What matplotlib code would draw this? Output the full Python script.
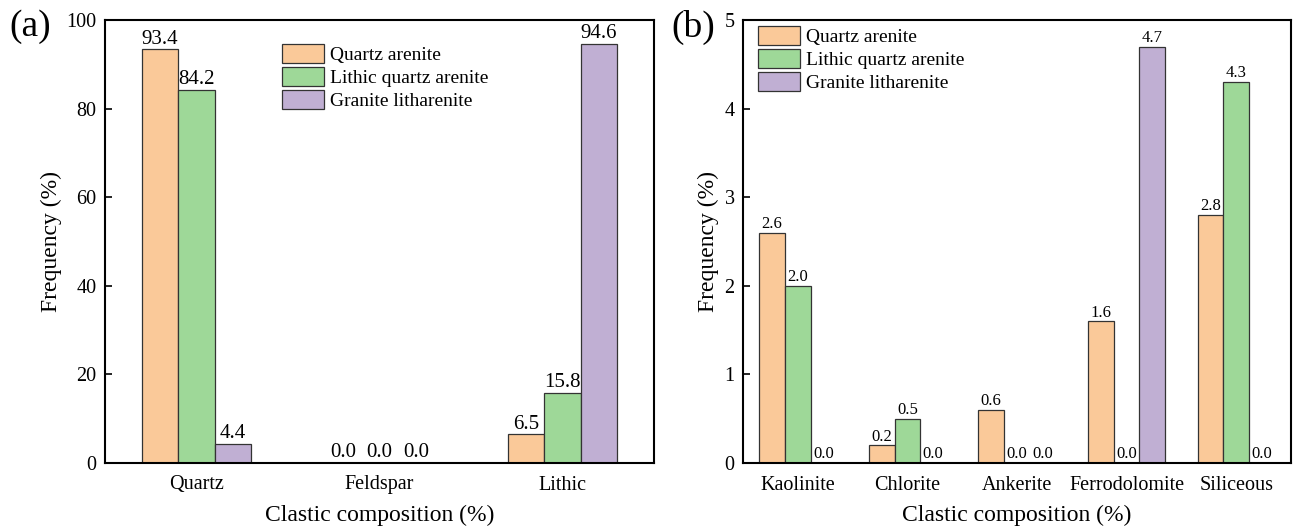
import matplotlib
matplotlib.use("Agg")
import matplotlib.pyplot as plt
import numpy as np

plt.rcParams['font.family'] = ['Liberation Serif', 'DejaVu Serif']
plt.rcParams['mathtext.fontset'] = 'stix'

series_names = ["Quartz arenite", "Lithic quartz arenite", "Granite litharenite"]
colors = ["#FAC999", "#9ED898", "#C0AFD3"]

cats_a = ["Quartz", "Feldspar", "Lithic"]
qa_a = [93.4, 0.0, 6.5]
lqa_a = [84.2, 0.0, 15.8]
gl_a = [4.4, 0.0, 94.6]

cats_b = ["Kaolinite", "Chlorite", "Ankerite", "Ferrodolomite", "Siliceous"]
qa_b = [2.6, 0.2, 0.6, 1.6, 2.8]
lqa_b = [2.0, 0.5, 0.0, 0.0, 4.3]
gl_b = [0.0, 0.0, 0.0, 4.7, 0.0]

W, H = 1295, 529
fig = plt.figure(figsize=(W / 100, H / 100), dpi=100)

def px_axes(l, r, t, b):
    return fig.add_axes([l / W, (H - b) / H, (r - l) / W, (b - t) / H])

ax_a = px_axes(105, 654, 20, 463)
ax_b = px_axes(743, 1291, 20, 463)

def draw(ax, cats, data, width, ylim, yticks, lab_fs, leg_anchor, ylab_x):
    x = np.arange(len(cats))
    for i, (vals, c, name) in enumerate(zip(data, colors, series_names)):
        bars = ax.bar(x + (i - 1) * width, vals, width, color=c, edgecolor="#333333",
                      linewidth=0.9, label=name, zorder=2)
        for rect, v in zip(bars, vals):
            ax.annotate(f"{v:.1f}", (rect.get_x() + rect.get_width() / 2, rect.get_height()),
                        xytext=(0, 0.5), textcoords="offset points", ha="center", va="bottom",
                        fontsize=lab_fs)
    ax.set_xlim(-0.5, len(cats) - 0.5)
    ax.set_ylim(*ylim)
    ax.set_yticks(yticks)
    ax.set_xticks(x)
    ax.set_xticklabels(cats)
    ax.tick_params(axis="y", direction="in", length=5, width=1.2, labelsize=14.5, pad=6)
    ax.tick_params(axis="x", length=0, labelsize=14.5, pad=9)
    for s in ax.spines.values():
        s.set_linewidth(1.5)
    ax.set_ylabel("Frequency (%)", fontsize=17)
    ax.yaxis.set_label_coords(ylab_x, 0.5)
    ax.set_xlabel("Clastic composition (%)", fontsize=17)
    ax.xaxis.set_label_coords(0.5, -0.095)
    ax.legend(loc="upper left", bbox_to_anchor=leg_anchor, frameon=False, fontsize=14,
              borderpad=0, borderaxespad=0, handlelength=2.15, handleheight=1.1,
              labelspacing=0.15, handletextpad=0.35)

draw(ax_a, cats_a, [qa_a, lqa_a, gl_a], 0.2, (0, 100), [0, 20, 40, 60, 80, 100], 15,
     (0.322, 0.945), -0.079)
draw(ax_b, cats_b, [qa_b, lqa_b, gl_b], 0.235, (0, 5), [0, 1, 2, 3, 4, 5], 12,
     (0.027, 0.986), -0.043)

fig.text(9 / W, 1 - 27 / H, "(a)", fontsize=27, va="center", ha="left")
fig.text(671 / W, 1 - 27 / H, "(b)", fontsize=27, va="center", ha="left")

fig.savefig("out.png", dpi=100)
